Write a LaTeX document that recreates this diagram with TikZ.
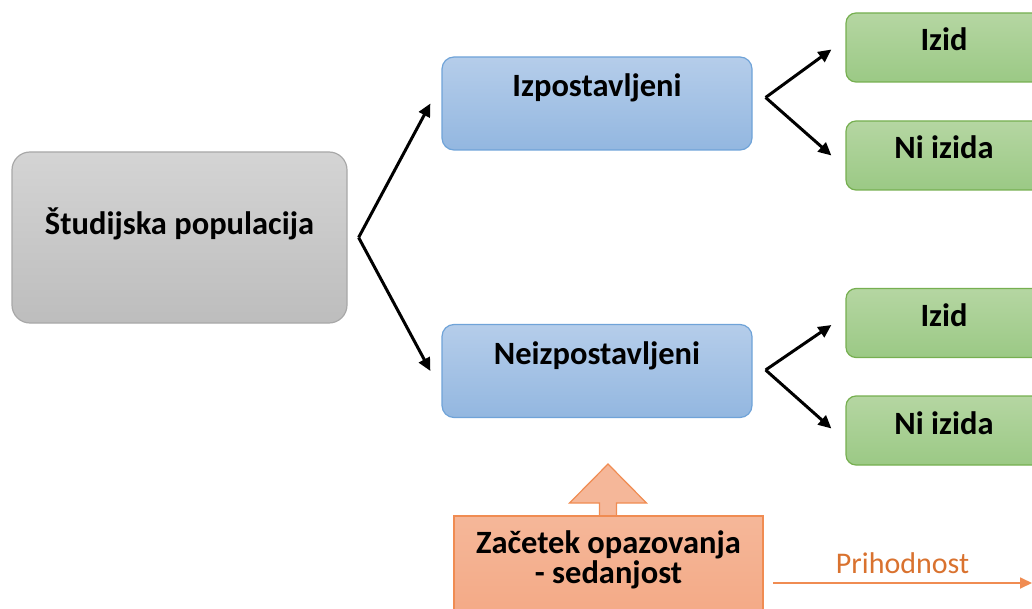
\documentclass[tikz,border=0pt]{standalone}
\usepackage{fontspec}
\setmainfont{Carlito}
\usetikzlibrary{arrows.meta}

\definecolor{graytop}{HTML}{D4D4D4}
\definecolor{graybot}{HTML}{BDBDBD}
\definecolor{grayline}{HTML}{A8A8A8}
\definecolor{bluetop}{HTML}{B5CDEA}
\definecolor{bluebot}{HTML}{93B7E0}
\definecolor{blueline}{HTML}{6FA3D8}
\definecolor{greentop}{HTML}{B5D6A2}
\definecolor{greenbot}{HTML}{9BC985}
\definecolor{greenline}{HTML}{76AF50}
\definecolor{orangetop}{HTML}{F5B799}
\definecolor{orangebot}{HTML}{F3A47E}
\definecolor{orangeline}{HTML}{F08C52}
\definecolor{orangetext}{HTML}{D9722F}

\begin{document}
\begin{tikzpicture}[x=1pt,y=-1pt,
    every node/.style={font=\fontsize{32.5}{30}\selectfont\bfseries, text height=20pt},
    fork/.style={line width=3pt, -{Triangle[length=13pt,width=12pt]}},
  ]
  \useasboundingbox (0,0) rectangle (1032,609);
  \clip (0,0) rectangle (1032,609);

  \begin{scope}[every node/.append style={draw=grayline, line width=1.2pt, rounded corners=18pt,
      top color=graytop, bottom color=graybot, minimum width=335pt, minimum height=171pt, text depth=25pt}]
    \node (pop) at (179.5,237.5) {Študijska populacija};
  \end{scope}

  \begin{scope}[every node/.append style={draw=blueline, line width=1.2pt, rounded corners=12pt,
      top color=bluetop, bottom color=bluebot, minimum width=310pt, minimum height=93pt, text depth=33pt}]
    \node (exp)  at (597,103.5) {Izpostavljeni};
    \node (unex) at (597,371)   {Neizpostavljeni};
  \end{scope}

  \begin{scope}[every node/.append style={draw=greenline, line width=1.2pt, rounded corners=10pt,
      top color=greentop, bottom color=greenbot, minimum width=196pt, minimum height=69pt, text depth=13pt}]
    \node (out1) at (944,47.5)  {Izid};
    \node (out2) at (944,155.5) {Ni izida};
    \node (out3) at (944,323)   {Izid};
    \node (out4) at (944,430.5) {Ni izida};
  \end{scope}

  % puscica navzgor
  \coordinate (tip) at (608.5,516);
  \filldraw[draw=orangeline, fill=orangetop, line width=1.2pt, line join=miter]
    ([xshift=-9pt]tip) -- ++(0,-13) -- ++(-30,0) -- ++(38.5,-39)
    -- ++(38.5,39) -- ++(-30,0) -- ++(0,13);

  \node[draw=orangeline, line width=1.2pt, top color=orangetop, bottom color=orangebot,
    minimum width=309pt, minimum height=140pt, align=center, text depth=26pt] (obs) at (608.5,586)
    {Začetek opazovanja\\- sedanjost};

  % razvejitve
  \coordinate (f0) at ([xshift=11pt]pop.east);
  \coordinate (f1) at ([xshift=13pt,yshift=6pt]exp.east);
  \coordinate (f2) at ([xshift=13pt,yshift=1pt]unex.east);

  \draw[fork] (f0) -- ([xshift=-11pt]exp.west);
  \draw[fork] (f0) -- ([xshift=-11pt]unex.west);
  \draw[fork] (f1) -- ([xshift=-14pt,yshift=-2pt]out1.west);
  \draw[fork] (f1) -- ([xshift=-14pt]out2.west);
  \draw[fork] (f2) -- ([xshift=-14pt,yshift=-2pt]out3.west);
  \draw[fork] (f2) -- ([xshift=-14pt,yshift=2pt]out4.west);

  % casovna os
  \coordinate (now) at (773,583);
  \coordinate (fut) at (1032,583);
  \draw[orangeline, line width=1.8pt, -{Triangle[length=12pt,width=11pt]}] (now) --
    node[above=5pt, font=\fontsize{30}{30}\selectfont, text=orangetext] (lbl) {Prihodnost} (fut);

\end{tikzpicture}
\end{document}
